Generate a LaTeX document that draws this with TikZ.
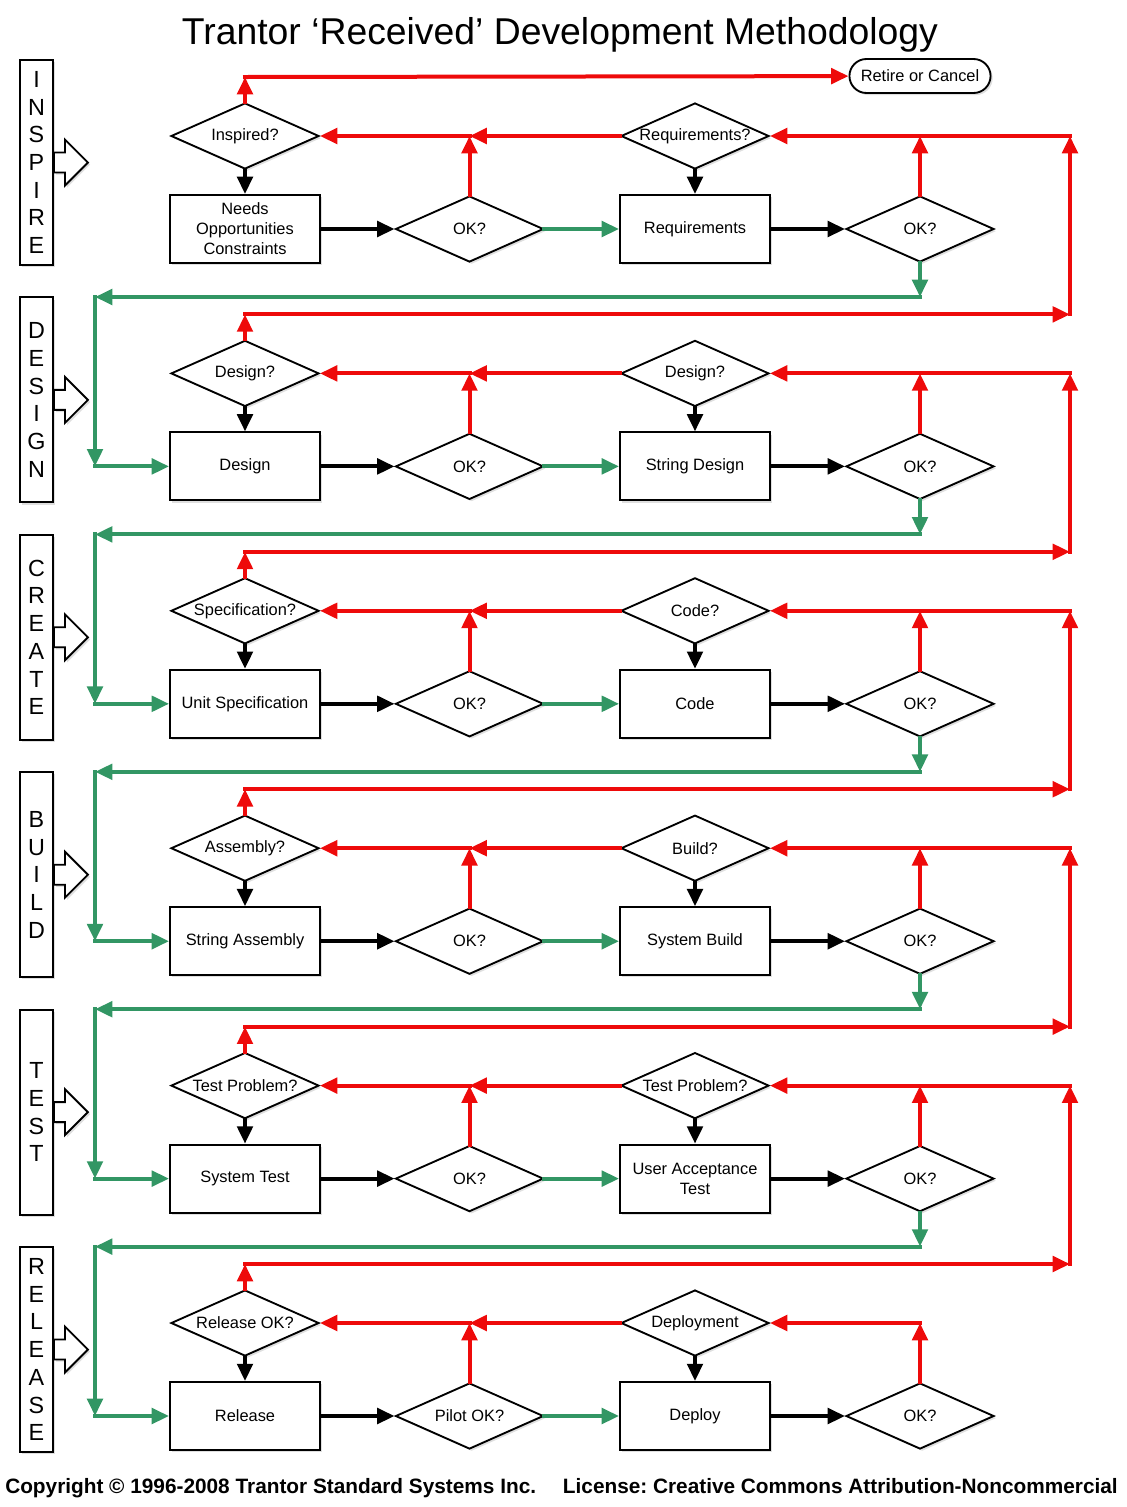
\documentclass[tikz,border=0pt]{standalone}
\usepackage{fontspec}
\setmainfont{Liberation Sans}
\usepackage{tikz}
\usetikzlibrary{arrows.meta,shapes.geometric,shapes.misc,shadows}
\definecolor{backc}{RGB}{238,10,10}
\definecolor{goc}{RGB}{50,150,100}
\frenchspacing

\begin{document}
\begin{tikzpicture}[x=0.75pt,y=-0.75pt,>={Triangle[length=13pt,width=11.5pt]},
  every node/.style={font=\fontsize{12.3}{15}\selectfont},
  dropsh/.style={drop shadow={shadow xshift=1.6pt,shadow yshift=-1.6pt,opacity=0.25}},
  stepbox/.style={draw,fill=white,line width=1.4pt,minimum width=112.5pt,minimum height=51pt,inner sep=1pt,align=center,dropsh},
  ask/.style={diamond,draw,fill=white,line width=1.4pt,minimum width=111pt,minimum height=49.5pt,inner sep=0pt,dropsh},
  phasebox/.style={draw,fill=white,line width=1.4pt,minimum width=24.75pt,minimum height=153.75pt,inner sep=0pt,align=center,font=\fontsize{17.5}{20.8}\selectfont,dropsh},
  flowline/.style={->,line width=3pt,line cap=rect}]
\useasboundingbox (0,0) rectangle (1127,1507);
% title and footer
\node[anchor=base,inner sep=0pt,font=\fontsize{28}{30}\selectfont] (title) at (560,44) {Trantor ‘Received’ Development Methodology};
\node[anchor=base west,inner sep=0pt,font=\bfseries\fontsize{15.6}{18}\selectfont] (copy) at (5,1493) {Copyright © 1996-2008 Trantor Standard Systems Inc.};
\node[anchor=base east,inner sep=0pt,font=\bfseries\fontsize{15.6}{18}\selectfont] (lic) at (1118,1493) {License: Creative Commons Attribution-Noncommercial};
\node[draw,fill=white,rounded rectangle,line width=1.4pt,minimum width=112.5pt,minimum height=25.5pt,dropsh] (retire) at (920,76) {Retire or Cancel};
% one row per phase (decision rows at 136 + 237.4 k)
\foreach \r/\ql/\bl/\ka/\qr/\br/\ph in {
  1/Inspired?/{Needs\\Opportunities\\Constraints}/OK?/Requirements?/Requirements/{I\\N\\S\\P\\I\\R\\E},
  2/Design?/Design/OK?/Design?/String Design/{D\\E\\S\\I\\G\\N},
  3/Specification?/Unit Specification/OK?/Code?/Code/{C\\R\\E\\A\\T\\E},
  4/Assembly?/String Assembly/OK?/Build?/System Build/{B\\U\\I\\L\\D},
  5/Test Problem?/System Test/OK?/Test Problem?/{User Acceptance\\Test}/{T\\E\\S\\T},
  6/Release OK?/Release/Pilot OK?/Deployment/Deploy/{R\\E\\L\\E\\A\\S\\E}}{
  \pgfmathsetmacro\yd{136+237.4*(\r-1)}
  \node[phasebox] (ph\r) at (36.5,\yd+26.5) {\ph};
  \draw[dropsh,fill=white,line width=1.4pt] (ph\r.east) ++(0,-10) -- ++(11,0) -- ++(0,-13) -- ++(23,23) -- ++(-23,23) -- ++(0,-13) -- ++(-11,0) -- cycle;
  \node[ask] (ql\r) at (245,\yd) {\makebox[0pt]{\ql}};
  \node[stepbox] (bl\r) at (245,\yd+93) {\bl};
  \node[ask] (ka\r) at (469.5,\yd+93) {\makebox[0pt]{\ka}};
  \node[ask] (qr\r) at (695,\yd) {\makebox[0pt]{\qr}};
  \node[stepbox] (br\r) at (695,\yd+93) {\br};
  \node[ask] (kb\r) at (920,\yd+93) {\makebox[0pt]{OK?}};
  % junctions of the return lines
  \coordinate (jl\r) at (469.5,\yd);
  \coordinate (jr\r) at (920,\yd);
  \coordinate (er\r) at (1070,\yd);
  \coordinate (tp\r) at (245,\yd-59);
  \coordinate (ec\r) at (1070,\yd-59);
  \coordinate (gd\r) at (920,\yd+161);
  \coordinate (gl\r) at (95,\yd+161);
  \coordinate (gb\r) at (95,\yd+93);
}
% flow inside each row
\foreach \r in {1,...,6}{
  \draw[flowline] (ql\r) -- (bl\r);
  \draw[flowline] (bl\r) -- (ka\r);
  \draw[flowline,goc] (ka\r) -- (br\r);
  \draw[flowline] (qr\r) -- (br\r);
  \draw[flowline] (br\r) -- (kb\r);
  \draw[flowline,backc] (ka\r) -- (jl\r);
  \draw[flowline,backc] (qr\r) -- (jl\r);
  \draw[flowline,backc] (jl\r) -- (ql\r);
  \draw[flowline,backc] (kb\r) -- (jr\r);
  \draw[flowline,backc] (ql\r) -- (tp\r);
}
% links between rows
\foreach \r [evaluate=\r as \n using int(\r+1)] in {1,...,5}{
  \draw[flowline,backc] (er\r) -- (qr\r);
  \draw[flowline,goc] (kb\r) -- (gd\r);
  \draw[flowline,goc] (gd\r) -- (gl\r);
  \draw[flowline,goc] (gl\r) -- (gb\n);
  \draw[flowline,goc] (gb\n) -- (bl\n);
  \draw[flowline,backc] (tp\n) -- (ec\n);
  \draw[flowline,backc] (ec\n) -- (er\r);
}
\draw[flowline,backc] (jr6) -- (qr6);
\draw[flowline,backc] (tp1) -- (retire);
\end{tikzpicture}
\end{document}
